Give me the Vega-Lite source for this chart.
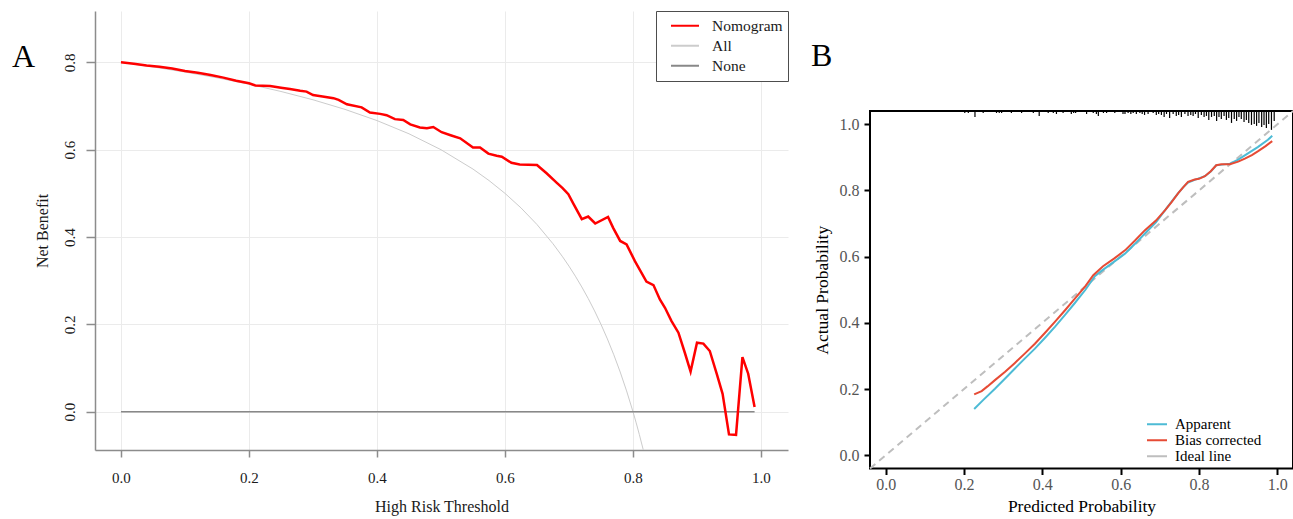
{
  "$schema": "https://vega.github.io/schema/vega-lite/v6.json",
  "padding": {"left": 12, "top": 10, "right": 0, "bottom": 0},
  "background": "white",
  "config": {"view": {"stroke": null}, "font": "Liberation Serif"},
  "resolve": {"scale": {"color": "independent"}, "legend": {"color": "independent"}},
  "spacing": 22,
  "hconcat": [
    {
      "width": 693,
      "height": 439,
      "title": {"text": "A", "anchor": "start", "frame": "group", "orient": "top", "offset": 0, "baseline": "alphabetic", "dx": -83, "dy": 88, "fontSize": 32, "fontWeight": "normal", "font": "Liberation Serif", "color": "black"},
      "layer": [
        {
          "data": {"values": [
            {"t": 0, "nb": 0.8, "series": "All"}, {"t": 0.05, "nb": 0.7895, "series": "All"}, {"t": 0.1, "nb": 0.7778, "series": "All"}, {"t": 0.15, "nb": 0.7647, "series": "All"}, {"t": 0.2, "nb": 0.75, "series": "All"}, {"t": 0.25, "nb": 0.7333, "series": "All"}, {"t": 0.3, "nb": 0.7143, "series": "All"}, {"t": 0.35, "nb": 0.6923, "series": "All"}, {"t": 0.4, "nb": 0.6667, "series": "All"}, {"t": 0.45, "nb": 0.6364, "series": "All"}, {"t": 0.5, "nb": 0.6, "series": "All"}, {"t": 0.55, "nb": 0.5556, "series": "All"}, {"t": 0.575, "nb": 0.5294, "series": "All"}, {"t": 0.6, "nb": 0.5, "series": "All"}, {"t": 0.625, "nb": 0.4667, "series": "All"}, {"t": 0.65, "nb": 0.4286, "series": "All"}, {"t": 0.675, "nb": 0.3846, "series": "All"}, {"t": 0.69, "nb": 0.3548, "series": "All"}, {"t": 0.7, "nb": 0.3333, "series": "All"}, {"t": 0.71, "nb": 0.3103, "series": "All"}, {"t": 0.72, "nb": 0.2857, "series": "All"}, {"t": 0.73, "nb": 0.2593, "series": "All"}, {"t": 0.74, "nb": 0.2308, "series": "All"}, {"t": 0.75, "nb": 0.2, "series": "All"}, {"t": 0.76, "nb": 0.1667, "series": "All"}, {"t": 0.77, "nb": 0.1304, "series": "All"}, {"t": 0.78, "nb": 0.0909, "series": "All"}, {"t": 0.79, "nb": 0.0476, "series": "All"}, {"t": 0.8, "nb": 0, "series": "All"}, {"t": 0.805, "nb": -0.0256, "series": "All"}, {"t": 0.81, "nb": -0.0526, "series": "All"}, {"t": 0.816, "nb": -0.087, "series": "All"}
          ]},
          "mark": {"type": "line", "strokeWidth": 1},
          "encoding": {
            "x": {"field": "t", "type": "quantitative",
              "scale": {"domain": [-0.0406, 1.0422], "nice": false, "zero": false},
              "axis": {"values": [0, 0.2, 0.4, 0.6, 0.8, 1], "format": ".1f", "title": "High Risk Threshold", "domain": true, "domainColor": "#8c8c8c", "domainWidth": 1.5, "grid": true, "gridColor": "#ebebeb", "gridWidth": 1, "tickColor": "#8c8c8c", "tickWidth": 1.5, "tickSize": 7, "labelColor": "#1a1a1a", "labelFont": "Liberation Serif", "labelFontSize": 15, "labelPadding": 13, "titleFont": "Liberation Serif", "titleFontSize": 16, "titleFontWeight": "normal", "titleColor": "#1a1a1a", "titlePadding": 13}},
            "y": {"field": "nb", "type": "quantitative",
              "scale": {"domain": [-0.0877, 0.9176], "nice": false, "zero": false},
              "axis": {"values": [0, 0.2, 0.4, 0.6, 0.8], "format": ".1f", "title": "Net Benefit", "domain": true, "domainColor": "#8c8c8c", "domainWidth": 1.5, "grid": true, "gridColor": "#ebebeb", "gridWidth": 1, "tickColor": "#8c8c8c", "tickWidth": 1.5, "tickSize": 9, "labelColor": "#1a1a1a", "labelFont": "Liberation Serif", "labelFontSize": 15, "labelAngle": -90, "labelAlign": "center", "labelBaseline": "alphabetic", "labelPadding": 12, "titleFont": "Liberation Serif", "titleFontSize": 16, "titleFontWeight": "normal", "titleColor": "#1a1a1a", "titleBaseline": "alphabetic", "titlePadding": 15}},
            "color": {"field": "series", "type": "nominal",
              "scale": {"domain": ["Nomogram", "All", "None"], "range": ["#ff0000", "#cccccc", "#888888"]},
              "legend": {"title": null, "orient": "top-right", "offset": 0, "padding": 5, "symbolOffset": 9, "strokeColor": "#4d4d4d", "fillColor": "white", "symbolType": "stroke", "symbolSize": 784, "symbolStrokeWidth": 2, "labelFont": "Liberation Serif", "labelFontSize": 15.5, "labelColor": "#1a1a1a", "labelOffset": 12, "clipHeight": 19.5, "rowPadding": 0}}
          }
        },
        {
          "data": {"values": [{"t": 0, "nb": 0, "series": "None"}, {"t": 0.99, "nb": 0, "series": "None"}]},
          "mark": {"type": "line", "strokeWidth": 1.5},
          "encoding": {
            "x": {"field": "t", "type": "quantitative"},
            "y": {"field": "nb", "type": "quantitative"},
            "color": {"field": "series", "type": "nominal"}
          }
        },
        {
          "data": {"values": [
            {"t": 0.0, "nb": 0.8}, {"t": 0.02, "nb": 0.797}, {"t": 0.04, "nb": 0.793}, {"t": 0.06, "nb": 0.79}, {"t": 0.08, "nb": 0.786}, {"t": 0.1, "nb": 0.78}, {"t": 0.12, "nb": 0.776}, {"t": 0.14, "nb": 0.771}, {"t": 0.16, "nb": 0.765}, {"t": 0.18, "nb": 0.758}, {"t": 0.2, "nb": 0.752}, {"t": 0.21, "nb": 0.747}, {"t": 0.233, "nb": 0.746}, {"t": 0.25, "nb": 0.742}, {"t": 0.264, "nb": 0.739}, {"t": 0.28, "nb": 0.735}, {"t": 0.29, "nb": 0.733}, {"t": 0.3, "nb": 0.725}, {"t": 0.315, "nb": 0.722}, {"t": 0.332, "nb": 0.718}, {"t": 0.34, "nb": 0.714}, {"t": 0.353, "nb": 0.704}, {"t": 0.376, "nb": 0.697}, {"t": 0.389, "nb": 0.685}, {"t": 0.405, "nb": 0.682}, {"t": 0.415, "nb": 0.679}, {"t": 0.428, "nb": 0.67}, {"t": 0.441, "nb": 0.668}, {"t": 0.452, "nb": 0.658}, {"t": 0.467, "nb": 0.651}, {"t": 0.478, "nb": 0.649}, {"t": 0.488, "nb": 0.652}, {"t": 0.501, "nb": 0.64}, {"t": 0.515, "nb": 0.633}, {"t": 0.53, "nb": 0.626}, {"t": 0.55, "nb": 0.605}, {"t": 0.561, "nb": 0.605}, {"t": 0.574, "nb": 0.591}, {"t": 0.587, "nb": 0.586}, {"t": 0.595, "nb": 0.584}, {"t": 0.61, "nb": 0.57}, {"t": 0.623, "nb": 0.566}, {"t": 0.65, "nb": 0.565}, {"t": 0.665, "nb": 0.546}, {"t": 0.681, "nb": 0.524}, {"t": 0.69, "nb": 0.512}, {"t": 0.699, "nb": 0.498}, {"t": 0.707, "nb": 0.476}, {"t": 0.72, "nb": 0.441}, {"t": 0.73, "nb": 0.447}, {"t": 0.741, "nb": 0.431}, {"t": 0.761, "nb": 0.446}, {"t": 0.769, "nb": 0.421}, {"t": 0.78, "nb": 0.391}, {"t": 0.79, "nb": 0.383}, {"t": 0.803, "nb": 0.345}, {"t": 0.821, "nb": 0.298}, {"t": 0.832, "nb": 0.29}, {"t": 0.842, "nb": 0.257}, {"t": 0.85, "nb": 0.238}, {"t": 0.86, "nb": 0.208}, {"t": 0.871, "nb": 0.181}, {"t": 0.881, "nb": 0.135}, {"t": 0.89, "nb": 0.092}, {"t": 0.9, "nb": 0.158}, {"t": 0.91, "nb": 0.156}, {"t": 0.92, "nb": 0.139}, {"t": 0.931, "nb": 0.086}, {"t": 0.94, "nb": 0.041}, {"t": 0.95, "nb": -0.052}, {"t": 0.961, "nb": -0.053}, {"t": 0.971, "nb": 0.125}, {"t": 0.98, "nb": 0.087}, {"t": 0.99, "nb": 0.011}
          ]},
          "transform": [{"calculate": "'Nomogram'", "as": "series"}],
          "mark": {"type": "line", "strokeWidth": 2.5},
          "encoding": {
            "x": {"field": "t", "type": "quantitative"},
            "y": {"field": "nb", "type": "quantitative"},
            "color": {"field": "series", "type": "nominal"}
          }
        }
      ]
    },
    {
      "spacing": 0,
      "vconcat": [
        {
          "width": 423,
          "height": 95,
          "title": {"text": "B", "anchor": "start", "frame": "group", "orient": "top", "offset": 0, "baseline": "alphabetic", "dx": -59, "dy": 87, "fontSize": 32, "fontWeight": "normal", "font": "Liberation Serif", "color": "black"},
          "data": {"values": []},
          "mark": {"type": "text"},
          "encoding": {"text": {"field": "label", "type": "nominal"}}
        },
        {
          "width": 423,
          "height": 357.5,
          "view": {"stroke": "black", "strokeWidth": 2},
          "layer": [
            {
              "data": {"values": [{"p": -0.04, "a": -0.04, "curve": "Ideal line"}, {"p": 1.04, "a": 1.04, "curve": "Ideal line"}]},
              "mark": {"type": "line", "strokeWidth": 2, "strokeDash": [7, 5]},
              "encoding": {
                "x": {"field": "p", "type": "quantitative",
                  "scale": {"domain": [-0.04, 1.04], "nice": false, "zero": false},
                  "axis": {"values": [0, 0.2, 0.4, 0.6, 0.8, 1], "format": ".1f", "title": "Predicted Probability", "domain": false, "grid": false, "tickColor": "black", "tickWidth": 2, "tickSize": 6, "labelColor": "#555555", "labelFont": "Liberation Serif", "labelFontSize": 16, "labelPadding": 2, "titleFont": "Liberation Serif", "titleFontSize": 17.5, "titleFontWeight": "normal", "titleColor": "black", "titlePadding": 5}},
                "y": {"field": "a", "type": "quantitative",
                  "scale": {"domain": [-0.04, 1.04], "nice": false, "zero": false},
                  "axis": {"values": [0, 0.2, 0.4, 0.6, 0.8, 1], "format": ".1f", "title": "Actual Probability", "domain": false, "grid": false, "tickColor": "black", "tickWidth": 2, "tickSize": 6, "labelColor": "#555555", "labelFont": "Liberation Serif", "labelFontSize": 16, "labelPadding": 5, "titleFont": "Liberation Serif", "titleFontSize": 17.5, "titleFontWeight": "normal", "titleColor": "black", "titlePadding": 8}},
                "color": {"field": "curve", "type": "nominal",
                  "scale": {"domain": ["Apparent", "Bias corrected", "Ideal line"], "range": ["#4DBBD5", "#E64B35", "#BEBEBE"]},
                  "legend": {"title": null, "orient": "none", "legendX": 276, "legendY": 406, "padding": 0, "symbolType": "stroke", "symbolSize": 400, "symbolStrokeWidth": 2, "symbolDash": [1, 0], "labelFont": "Liberation Serif", "labelFontSize": 15, "labelColor": "black", "labelOffset": 7, "clipHeight": 14.5, "rowPadding": 0}}
              }
            },
            {
              "data": {"values": [
                {"p": 0.202, "lo": 1.034}, {"p": 0.211, "lo": 1.034}, {"p": 0.228, "lo": 1.022}, {"p": 0.249, "lo": 1.034}, {"p": 0.283, "lo": 1.034}, {"p": 0.29, "lo": 1.034}, {"p": 0.296, "lo": 1.034}, {"p": 0.321, "lo": 1.034}, {"p": 0.347, "lo": 1.034}, {"p": 0.377, "lo": 1.034}, {"p": 0.392, "lo": 1.025}, {"p": 0.415, "lo": 1.034}, {"p": 0.428, "lo": 1.034}, {"p": 0.436, "lo": 1.031}, {"p": 0.453, "lo": 1.034}, {"p": 0.474, "lo": 1.031}, {"p": 0.48, "lo": 1.034}, {"p": 0.485, "lo": 1.034}, {"p": 0.513, "lo": 1.031}, {"p": 0.53, "lo": 1.034}, {"p": 0.538, "lo": 1.031}, {"p": 0.543, "lo": 1.025}, {"p": 0.556, "lo": 1.034}, {"p": 0.564, "lo": 1.034}, {"p": 0.585, "lo": 1.034}, {"p": 0.606, "lo": 1.031},
                {"p": 0.611, "lo": 1.031}, {"p": 0.619, "lo": 1.034}, {"p": 0.626, "lo": 1.031}, {"p": 0.632, "lo": 1.034}, {"p": 0.64, "lo": 1.031}, {"p": 0.649, "lo": 1.034}, {"p": 0.655, "lo": 1.031}, {"p": 0.661, "lo": 1.028}, {"p": 0.67, "lo": 1.031}, {"p": 0.683, "lo": 1.034}, {"p": 0.691, "lo": 1.028}, {"p": 0.697, "lo": 1.031}, {"p": 0.704, "lo": 1.028}, {"p": 0.711, "lo": 1.022}, {"p": 0.717, "lo": 1.031}, {"p": 0.725, "lo": 1.019}, {"p": 0.734, "lo": 1.031}, {"p": 0.742, "lo": 1.025}, {"p": 0.748, "lo": 1.028}, {"p": 0.755, "lo": 1.022}, {"p": 0.764, "lo": 1.031}, {"p": 0.772, "lo": 1.025}, {"p": 0.779, "lo": 1.028}, {"p": 0.785, "lo": 1.025}, {"p": 0.791, "lo": 1.031}, {"p": 0.798, "lo": 1.019}, {"p": 0.806, "lo": 1.028}, {"p": 0.813, "lo": 1.022}, {"p": 0.819, "lo": 1.025}, {"p": 0.825, "lo": 1.013}, {"p": 0.832, "lo": 1.022}, {"p": 0.839, "lo": 1.025}, {"p": 0.845, "lo": 1.01}, {"p": 0.851, "lo": 1.022}, {"p": 0.857, "lo": 1.016}, {"p": 0.864, "lo": 1.025}, {"p": 0.87, "lo": 1.013}, {"p": 0.876, "lo": 1.019}, {"p": 0.883, "lo": 1.004}, {"p": 0.89, "lo": 1.016}, {"p": 0.896, "lo": 1.01}, {"p": 0.902, "lo": 1.022}, {"p": 0.908, "lo": 1.016}, {"p": 0.915, "lo": 1.007}, {"p": 0.921, "lo": 1.013}, {"p": 0.927, "lo": 1.004}, {"p": 0.934, "lo": 0.998}, {"p": 0.941, "lo": 1.001}, {"p": 0.947, "lo": 0.995}, {"p": 0.953, "lo": 1.004}, {"p": 0.96, "lo": 0.992}, {"p": 0.966, "lo": 0.998}, {"p": 0.972, "lo": 0.989}, {"p": 0.978, "lo": 1.001}, {"p": 0.985, "lo": 0.983}, {"p": 0.992, "lo": 1.01}
              ]},
              "mark": {"type": "rule", "color": "black", "strokeWidth": 1.2},
              "encoding": {"x": {"field": "p", "type": "quantitative"}, "y": {"field": "lo", "type": "quantitative"}, "y2": {"value": 0}}
            },
            {
              "data": {"values": [
                {"p": 0.226, "a": 0.14}, {"p": 0.25, "a": 0.168}, {"p": 0.279, "a": 0.201}, {"p": 0.305, "a": 0.232}, {"p": 0.33, "a": 0.262}, {"p": 0.355, "a": 0.292}, {"p": 0.381, "a": 0.322}, {"p": 0.407, "a": 0.355}, {"p": 0.432, "a": 0.388}, {"p": 0.458, "a": 0.424}, {"p": 0.483, "a": 0.46}, {"p": 0.51, "a": 0.5}, {"p": 0.534, "a": 0.541}, {"p": 0.551, "a": 0.557}, {"p": 0.58, "a": 0.582}, {"p": 0.611, "a": 0.609}, {"p": 0.636, "a": 0.638}, {"p": 0.662, "a": 0.67}, {"p": 0.69, "a": 0.704}, {"p": 0.713, "a": 0.74}, {"p": 0.73, "a": 0.766}, {"p": 0.747, "a": 0.792}, {"p": 0.76, "a": 0.81}, {"p": 0.772, "a": 0.824}, {"p": 0.789, "a": 0.832}, {"p": 0.815, "a": 0.843}, {"p": 0.83, "a": 0.857}, {"p": 0.844, "a": 0.876}, {"p": 0.86, "a": 0.878}, {"p": 0.879, "a": 0.881}, {"p": 0.9, "a": 0.893}, {"p": 0.917, "a": 0.906}, {"p": 0.95, "a": 0.931}, {"p": 0.976, "a": 0.953}, {"p": 0.987, "a": 0.965}
              ]},
              "transform": [{"calculate": "'Apparent'", "as": "curve"}],
              "mark": {"type": "line", "strokeWidth": 2},
              "encoding": {
                "x": {"field": "p", "type": "quantitative"},
                "y": {"field": "a", "type": "quantitative"},
                "color": {"field": "curve", "type": "nominal"}
              }
            },
            {
              "data": {"values": [
                {"p": 0.226, "a": 0.184}, {"p": 0.245, "a": 0.194}, {"p": 0.26, "a": 0.208}, {"p": 0.279, "a": 0.227}, {"p": 0.305, "a": 0.252}, {"p": 0.33, "a": 0.279}, {"p": 0.355, "a": 0.307}, {"p": 0.381, "a": 0.337}, {"p": 0.407, "a": 0.37}, {"p": 0.432, "a": 0.403}, {"p": 0.458, "a": 0.438}, {"p": 0.483, "a": 0.473}, {"p": 0.51, "a": 0.511}, {"p": 0.53, "a": 0.544}, {"p": 0.555, "a": 0.571}, {"p": 0.583, "a": 0.594}, {"p": 0.611, "a": 0.619}, {"p": 0.636, "a": 0.648}, {"p": 0.662, "a": 0.68}, {"p": 0.69, "a": 0.709}, {"p": 0.713, "a": 0.74}, {"p": 0.73, "a": 0.765}, {"p": 0.747, "a": 0.792}, {"p": 0.76, "a": 0.81}, {"p": 0.772, "a": 0.826}, {"p": 0.789, "a": 0.833}, {"p": 0.8, "a": 0.835}, {"p": 0.815, "a": 0.843}, {"p": 0.83, "a": 0.858}, {"p": 0.844, "a": 0.876}, {"p": 0.857, "a": 0.879}, {"p": 0.879, "a": 0.879}, {"p": 0.9, "a": 0.887}, {"p": 0.917, "a": 0.896}, {"p": 0.935, "a": 0.907}, {"p": 0.951, "a": 0.919}, {"p": 0.97, "a": 0.934}, {"p": 0.987, "a": 0.949}
              ]},
              "transform": [{"calculate": "'Bias corrected'", "as": "curve"}],
              "mark": {"type": "line", "strokeWidth": 2},
              "encoding": {
                "x": {"field": "p", "type": "quantitative"},
                "y": {"field": "a", "type": "quantitative"},
                "color": {"field": "curve", "type": "nominal"}
              }
            }
          ]
        }
      ]
    }
  ]
}
